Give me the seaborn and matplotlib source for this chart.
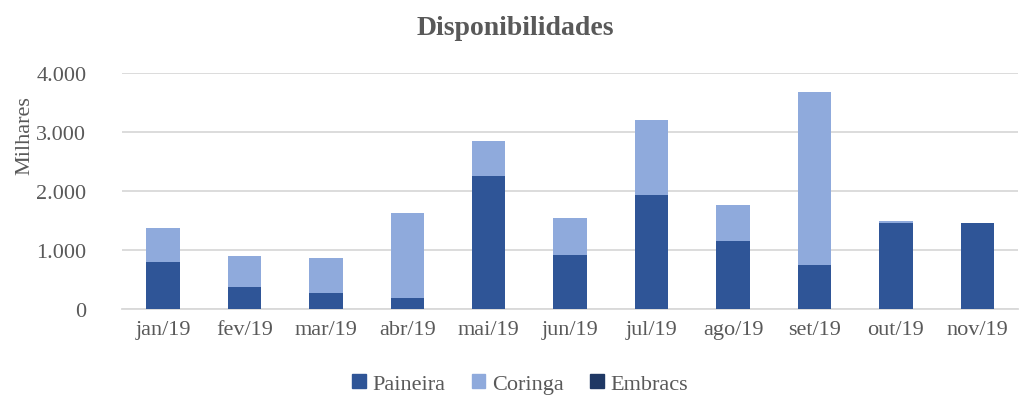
import pandas as pd
import matplotlib.pyplot as plt
import seaborn as sns
from matplotlib.patches import Patch

# data (milhares)
meses = ['jan/19', 'fev/19', 'mar/19', 'abr/19', 'mai/19', 'jun/19',
         'jul/19', 'ago/19', 'set/19', 'out/19', 'nov/19']
paineira = [800, 370, 270, 185, 2260, 920, 1935, 1150, 745, 1465, 1465]
coringa = [580, 520, 590, 1440, 595, 620, 1270, 610, 2935, 20, 0]
embracs = [0, 0, 0, 0, 0, 0, 0, 0, 0, 0, 0]

cores = {'Paineira': '#2F5597', 'Coringa': '#8FAADC', 'Embracs': '#1F3864'}

df = pd.DataFrame({'mes': meses, 'Paineira': paineira,
                   'Coringa': coringa, 'Embracs': embracs})
df['c1'] = df['Paineira']
df['c2'] = df['c1'] + df['Coringa']
df['c3'] = df['c2'] + df['Embracs']

sns.set_style('white')
plt.rcParams['font.family'] = ['Liberation Serif', 'DejaVu Serif']
cinza = '#595959'

fig = plt.figure(figsize=(10.2, 4.02), dpi=100)
ax = fig.add_axes([0.12, 0.229, 0.878, 0.587])

# stacked bars drawn as cumulative layers
for col, nome in [('c3', 'Embracs'), ('c2', 'Coringa'), ('c1', 'Paineira')]:
    sns.barplot(data=df, x='mes', y=col, color=cores[nome], width=0.41,
                saturation=1, linewidth=0, ax=ax, zorder=3)

ax.set_xlim(-0.5, 10.5)
ax.set_ylim(0, 4000)
ax.set_yticks([0, 1000, 2000, 3000, 4000])
ax.set_yticklabels(['0', '1.000', '2.000', '3.000', '4.000'])
ax.yaxis.grid(True, color='#D9D9D9', linewidth=1.3, zorder=0)
ax.set_axisbelow(True)
for s in ['top', 'right', 'left']:
    ax.spines[s].set_visible(False)
ax.spines['bottom'].set_color('#D9D9D9')
ax.spines['bottom'].set_linewidth(1.3)

ax.set_xticks(range(len(meses)))
ax.set_xticklabels(meses)
ax.set_xticks([i - 0.5 for i in range(len(meses) + 1)], minor=True)
ax.tick_params(axis='x', which='major', length=0, pad=8, labelsize=16, labelcolor=cinza)
ax.tick_params(axis='x', which='minor', length=8, width=1.3, color='#D9D9D9')
ax.tick_params(axis='y', length=0, pad=26, labelsize=16, labelcolor=cinza)

ax.set_xlabel('')
ax.set_ylabel('Milhares', fontsize=16, color=cinza)
ax.yaxis.set_label_coords(-0.098, 0.74)
fig.text(0.505, 0.93, 'Disponibilidades', ha='center', va='center',
         fontsize=20, fontweight='bold', color=cinza)

handles = [Patch(color=cores[n]) for n in ['Paineira', 'Coringa', 'Embracs']]
leg = fig.legend(handles, ['Paineira', 'Coringa', 'Embracs'], loc='center',
                 bbox_to_anchor=(0.51, 0.042), ncol=3, frameon=False,
                 fontsize=16, labelcolor=cinza,
                 handlelength=0.6, handleheight=0.6,
                 handletextpad=0.3, columnspacing=1.2)
for t in leg.get_texts():
    t.set_fontfamily(['Liberation Serif', 'DejaVu Serif'])

plt.savefig('out.png', dpi=100)
